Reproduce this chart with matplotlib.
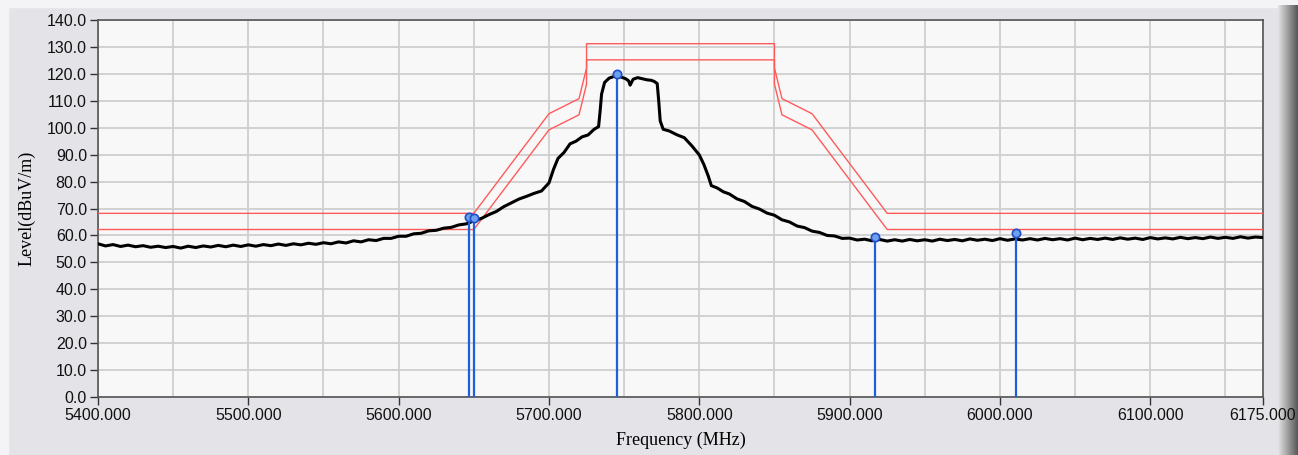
import numpy as np
import matplotlib
matplotlib.use("Agg")
import matplotlib.pyplot as plt
from matplotlib.ticker import FixedLocator, FormatStrFormatter

# ---- data ------------------------------------------------------------------
freq_mhz = [
    5400, 5405, 5410, 5415, 5420, 5425, 5430, 5435, 5440, 5445,
    5450, 5455, 5460, 5465, 5470, 5475, 5480, 5485, 5490, 5495,
    5500, 5505, 5510, 5515, 5520, 5525, 5530, 5535, 5540, 5545,
    5550, 5555, 5560, 5565, 5570, 5575, 5580, 5585, 5590, 5595,
    5600, 5605, 5610, 5615, 5620, 5625, 5630, 5635, 5640, 5645,
    5650, 5655, 5660, 5665, 5670, 5675, 5680, 5685, 5690, 5695,
    5700, 5703, 5706, 5710, 5714, 5718, 5722, 5726, 5730, 5733,
    5734, 5735, 5737, 5740, 5743, 5745, 5748, 5751, 5753, 5754,
    5756, 5759, 5762, 5765, 5768, 5770, 5772, 5773, 5774, 5776,
    5780, 5785, 5790, 5795, 5800, 5803, 5806, 5808, 5812, 5816,
    5820, 5825, 5830, 5835, 5840, 5845, 5850, 5855, 5860, 5865,
    5870, 5875, 5880, 5885, 5890, 5895, 5900, 5905, 5910, 5915,
    5920, 5925, 5930, 5935, 5940, 5945, 5950, 5955, 5960, 5965,
    5970, 5975, 5980, 5985, 5990, 5995, 6000, 6005, 6010, 6015,
    6020, 6025, 6030, 6035, 6040, 6045, 6050, 6055, 6060, 6065,
    6070, 6075, 6080, 6085, 6090, 6095, 6100, 6105, 6110, 6115,
    6120, 6125, 6130, 6135, 6140, 6145, 6150, 6155, 6160, 6165,
    6170, 6175,
]
level_dbuv = [
    56.9, 56.1, 56.6, 55.9, 56.4, 55.8, 56.2, 55.6, 56.0, 55.5,
    55.9, 55.3, 56.0, 55.5, 56.1, 55.7, 56.3, 55.8, 56.4, 55.9,
    56.5, 56.0, 56.6, 56.2, 56.8, 56.3, 56.9, 56.5, 57.1, 56.7,
    57.3, 56.9, 57.6, 57.2, 58.0, 57.6, 58.4, 58.1, 58.9, 58.9,
    59.7, 59.7, 60.6, 60.8, 61.7, 61.9, 62.7, 63.0, 63.9, 64.3,
    65.4, 66.3, 67.7, 68.9, 70.7, 72.1, 73.5, 74.5, 75.6, 76.5,
    79.5, 84.5, 88.6, 90.8, 94.0, 95.0, 96.6, 97.3, 99.4, 100.4,
    106.0, 112.5, 116.8, 118.4, 119.0, 119.4, 118.8, 118.2, 117.4, 115.8,
    118.0, 118.6, 118.2, 117.8, 117.6, 117.2, 116.4, 110.0, 102.5, 99.4,
    98.8, 97.4, 96.3, 93.3, 89.9, 86.4, 82.0, 78.5, 77.6, 76.2,
    75.4, 73.6, 72.6, 70.8, 69.8, 68.3, 67.5, 65.8, 65.0, 63.5,
    62.9, 61.6, 61.1, 60.0, 59.8, 58.9, 59.0, 58.3, 58.6, 58.0,
    58.5, 57.9, 58.4, 57.9, 58.5, 58.0, 58.4, 57.9, 58.6, 58.1,
    58.5, 58.0, 58.7, 58.2, 58.6, 58.1, 58.8, 58.2, 58.7, 58.3,
    58.8, 58.3, 58.9, 58.4, 58.8, 58.3, 59.0, 58.4, 58.9, 58.5,
    59.0, 58.5, 59.1, 58.6, 59.0, 58.5, 59.2, 58.7, 59.1, 58.7,
    59.3, 58.8, 59.2, 58.8, 59.4, 58.9, 59.3, 58.9, 59.5, 59.0,
    59.4, 59.2,
]

limit_freq = [5400, 5650, 5700, 5720, 5725, 5725, 5850, 5850, 5855, 5875, 5925, 6175]
limit_upper = [68.2, 68.2, 105.2, 110.8, 122.2, 131.2, 131.2, 122.2, 110.8, 105.2, 68.2, 68.2]
limit_lower = [62.2, 62.2, 99.2, 104.8, 116.2, 125.2, 125.2, 116.2, 104.8, 99.2, 62.2, 62.2]

marker_freq = [5647.0, 5650.0, 5745.0, 5917.0, 6011.0]
marker_level = [66.9, 66.6, 120.0, 59.5, 61.0]

x_ticks = [5400, 5500, 5600, 5700, 5800, 5900, 6000, 6100, 6175]
x_grid = [5450, 5550, 5650, 5750, 5850, 5950, 6050, 6150]
y_ticks = list(range(0, 141, 10))

# ---- figure -----------------------------------------------------------------
W, H = 1298, 455
fig = plt.figure(figsize=(W / 100, H / 100), dpi=100)
fig.patch.set_facecolor("#e4e4e8")

# window chrome: light top/left strips and dark gradient on the right
fig.add_artist(plt.Rectangle((0, 1 - 7 / H), 1, 7 / H, transform=fig.transFigure,
                             color="#f4f4f6", zorder=-1))
fig.add_artist(plt.Rectangle((0, 0), 8 / W, 1, transform=fig.transFigure,
                             color="#f4f4f6", zorder=-1))
bar = fig.add_axes([1278 / W, 0, 20 / W, 1 - 5 / H])
bar.imshow(np.linspace(0.88, 0.35, 20)[None, :], cmap="gray", vmin=0, vmax=1,
           aspect="auto", extent=(0, 1, 0, 1))
bar.set_axis_off()

ax = fig.add_axes([98 / W, 1 - 397 / H, (1263 - 98) / W, (397 - 20) / H])
ax.set_facecolor("#f8f8f8")

ax.set_xlim(5400, 6175)
ax.set_ylim(0, 140)
ax.xaxis.set_major_locator(FixedLocator(x_ticks))
ax.xaxis.set_minor_locator(FixedLocator(x_grid))
ax.yaxis.set_major_locator(FixedLocator(y_ticks))
ax.xaxis.set_major_formatter(FormatStrFormatter("%.3f"))
ax.yaxis.set_major_formatter(FormatStrFormatter("%.1f"))

ax.grid(True, which="both", color="#cfcfcf", lw=1.3, zorder=0)
ax.tick_params(axis="x", which="minor", length=0)
ax.tick_params(axis="both", which="major", length=6, width=1, color="#333333",
               labelsize=11.5, labelcolor="#111111", pad=2)
for lab in ax.get_xticklabels() + ax.get_yticklabels():
    lab.set_family("Liberation Sans")
for sp in ax.spines.values():
    sp.set_color("#555555")
    sp.set_linewidth(1.2)

# limit lines
ax.plot(limit_freq, limit_upper, color="#ff5a5a", lw=1.0, zorder=3)
ax.plot(limit_freq, limit_lower, color="#ff5a5a", lw=1.0, zorder=3)

# measured trace
ax.plot(freq_mhz, level_dbuv, color="black", lw=2.2, zorder=4)

# markers
ax.vlines(marker_freq, 0, marker_level, color="#1f5fd8", lw=1.6, zorder=5)
ax.plot(marker_freq, marker_level, "o", ms=6, mfc="#6fa0ee", mec="#1f4fc8",
        mew=1.2, zorder=6, clip_on=False)

ax.set_xlabel("Frequency (MHz)", family="Liberation Serif", fontsize=13, labelpad=6)
ax.set_ylabel("Level(dBuV/m)", family="Liberation Serif", fontsize=13, labelpad=8)

fig.savefig("out.png", dpi=100, facecolor=fig.get_facecolor())
